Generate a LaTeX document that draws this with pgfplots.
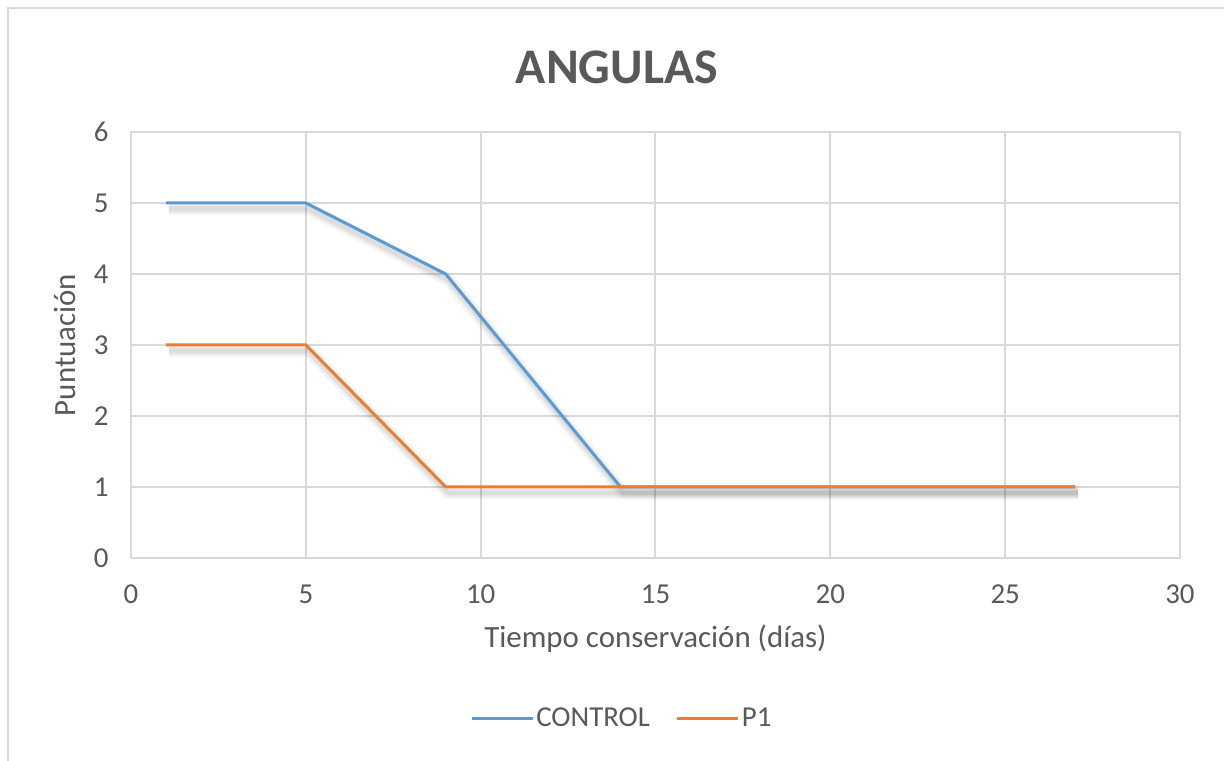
\documentclass[border=0pt]{standalone}
\usepackage{pgfplots}
\pgfplotsset{compat=1.18}
\usepackage{fontspec}
\setmainfont{Carlito}
\definecolor{ctrl}{HTML}{5B9BD5}
\definecolor{pone}{HTML}{ED7D31}
\definecolor{txt}{HTML}{595959}
\definecolor{grd}{HTML}{D9D9D9}

\pgfplotstableread{
dia punt
1 5
5 5
9 4
14 1
27 1
}\control
\pgfplotstableread{
dia punt
1 3
5 3
9 1
14 1
27 1
}\pone

\pgfplotsset{
  shadowline/.style={forget plot, black, xshift=3bp, yshift=-6bp},
}

\begin{document}
\begin{tikzpicture}[x=1bp,y=1bp]
\path[use as bounding box] (0,0) rectangle (1224,761);
\draw[grd, line width=2.5bp] (1224,753) -- (8,753) -- (8,0);
\node[font=\bfseries\fontsize{50}{60}\selectfont, text=txt] at (617,694) {ANGULAS};
\begin{axis}[
  at={(131bp,203bp)}, anchor=south west, scale only axis,
  width=1049bp, height=426bp,
  xmin=0, xmax=30, ymin=0, ymax=6,
  xtick={0,5,...,30}, ytick={0,1,...,6},
  grid=major, major grid style={grd, line width=2bp},
  axis line style={grd, line width=2bp},
  tick style={draw=none},
  /pgf/number format/assume math mode=true,
  ticklabel style={font=\fontsize{29}{34}\selectfont, text=txt},
  xticklabel style={yshift=-23bp},
  yticklabel style={xshift=-19bp},
  xlabel={Tiempo conservación (días)},
  ylabel={Puntuación},
  label style={font=\fontsize{31}{36}\selectfont, text=txt},
  xlabel style={at={(axis description cs:0.5,-0.211)}, anchor=base},
  ylabel style={at={(axis description cs:-0.063,0.5)}, anchor=center},
  legend style={at={(axis description cs:0.468,-0.376)}, anchor=center,
    draw=none, fill=none, legend columns=2,
    font=\fontsize{29}{34}\selectfont, text=txt,
    /tikz/every even column/.append style={column sep=24bp}},
  legend image code/.code={\draw[#1] (0bp,0bp) -- (61bp,0bp);},
  line join=round,
]
% soft drop shadows beneath both series
\addplot[shadowline, opacity=0.035, line width=13bp] table {\control};
\addplot[shadowline, opacity=0.035, line width=13bp] table {\pone};
\addplot[shadowline, opacity=0.045, line width=9bp] table {\control};
\addplot[shadowline, opacity=0.045, line width=9bp] table {\pone};
\addplot[shadowline, opacity=0.06, line width=5bp] table {\control};
\addplot[shadowline, opacity=0.06, line width=5bp] table {\pone};
\addplot[ctrl, line width=3bp] table {\control};
\addlegendentry{CONTROL}
\addplot[pone, line width=3bp] table {\pone};
\addlegendentry{P1}
\end{axis}
\end{tikzpicture}
\end{document}
